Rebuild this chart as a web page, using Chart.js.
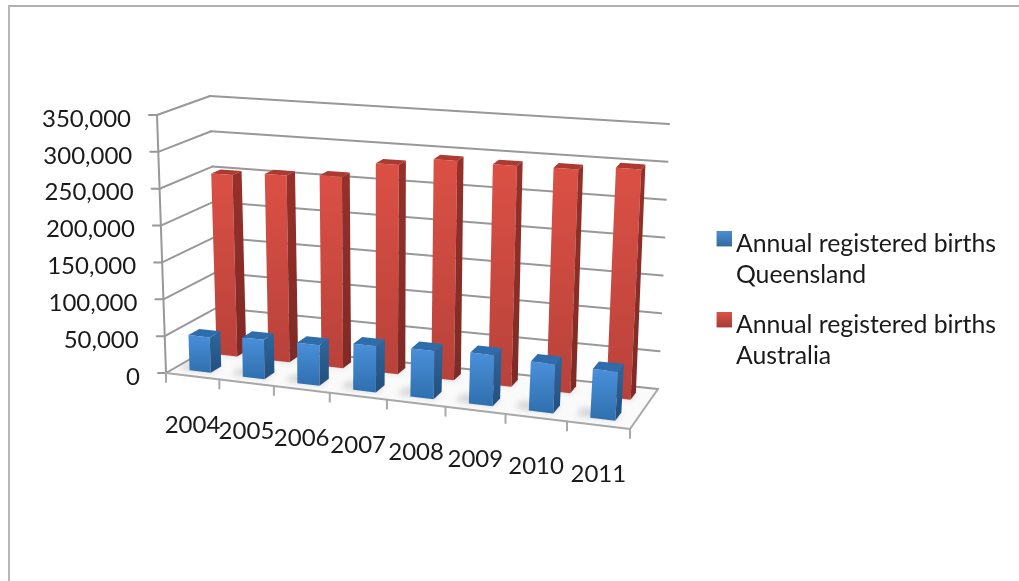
<!DOCTYPE html>
<html>
<head>
<meta charset="utf-8">
<title>Annual registered births</title>
<script src="https://cdn.jsdelivr.net/npm/chart.js@4/dist/chart.umd.min.js"></script>
<style>
  html, body { margin: 0; background: #fff; overflow: hidden; }
  #frame { position: absolute; left: 8px; top: 5px; right: -4px; bottom: -4px; border-left: 2px solid #b7b7b7; border-top: 2px solid #b0b0b0; }
  #graficoNascimentos { position: absolute; left: 0; top: 0; }
</style>
</head>
<body>
<div id="frame"></div>
<canvas id="graficoNascimentos" width="1019" height="581"></canvas>
<script>
const anos = ['2004', '2005', '2006', '2007', '2008', '2009', '2010', '2011'];
const queensland = [48000, 53000, 54000, 61000, 63000, 66000, 63000, 62000];
const australia = [252000, 257000, 261000, 283000, 294000, 293000, 294000, 300000];
const nomeQueensland = ['Annual registered births', 'Queensland'];
const nomeAustralia = ['Annual registered births', 'Australia'];

const fonte = 'Lato, "Open Sans", sans-serif';
const corGrade = '#989898';

// corners of the plot box on screen: floor and ceiling, front-left first, going round
const chao = quad([166, 373], [630, 429], [658, 389], [218, 343]);
const teto = quad([157, 115], [648, 150], [669, 124], [210, 96]);

// unit square -> quadrilateral
function quad(p00, p10, p11, p01) {
  return (u, w) => [0, 1].map(i =>
    p00[i] * (1 - u) * (1 - w) + p10[i] * u * (1 - w) + p11[i] * u * w + p01[i] * (1 - u) * w);
}

// u along the years, v up the value axis, w into the depth
function projeta(u, v, w) {
  const uu = u / (1 + 0.1 * (1 - u)); // years get wider towards the right
  const p0 = chao(uu, w), p1 = teto(uu, w);
  return [p0[0] + (p1[0] - p0[0]) * v, p0[1] + (p1[1] - p0[1]) * v];
}

function poligono(ctx, pts, cor) {
  ctx.beginPath();
  pts.forEach((p, i) => i ? ctx.lineTo(p[0], p[1]) : ctx.moveTo(p[0], p[1]));
  ctx.closePath();
  ctx.fillStyle = cor;
  ctx.fill();
}

function linha(ctx, a, b) {
  ctx.beginPath();
  ctx.moveTo(a[0], a[1]);
  ctx.lineTo(b[0], b[1]);
  ctx.stroke();
}

// bar controller whose columns are drawn as boxes inside the projected plot
class Barra3dController extends Chart.BarController {
  static id = 'barra3d';
  static defaults = Chart.BarController.defaults;
  static overrides = Chart.BarController.overrides;

  draw() {
    const ctx = this.chart.ctx;
    const area = this.chart.chartArea;
    const ds = this.getDataset();
    const u = x => (x - area.left) / area.width;
    const v = y => (area.bottom - y) / area.height;

    this.getMeta().data.forEach(barra => {
      const u0 = u(barra.x - barra.width / 2), u1 = u(barra.x + barra.width / 2);
      const v0 = v(barra.base), v1 = v(barra.y);
      const w0 = ds.profundidade[0], w1 = ds.profundidade[1];

      // soft shadow on the floor, to the left of the base
      ctx.save();
      ctx.filter = 'blur(3px)';
      poligono(ctx, [
        projeta(u0 - 0.03, 0, w0 + 0.02), projeta(u1, 0, w0 + 0.02),
        projeta(u1, 0, w1), projeta(u0 - 0.03, 0, w1)
      ], 'rgba(120,120,120,0.32)');
      ctx.restore();

      const topoA = projeta(u0, v1, w0), topoB = projeta(u1, v1, w0);
      const baseA = projeta(u0, v0, w0), baseB = projeta(u1, v0, w0);

      const grad = ctx.createLinearGradient(0, topoA[1], 0, baseB[1]);
      grad.addColorStop(0, ds.corFrente[0]);
      grad.addColorStop(1, ds.corFrente[1]);
      poligono(ctx, [topoA, topoB, baseB, baseA], grad);

      const gradLado = ctx.createLinearGradient(0, topoA[1], 0, baseB[1]);
      gradLado.addColorStop(0, ds.corLado[0]);
      gradLado.addColorStop(1, ds.corLado[1]);
      poligono(ctx, [topoB, projeta(u1, v1, w1), projeta(u1, v0, w1), baseB], gradLado);

      poligono(ctx, [topoA, topoB, projeta(u1, v1, w1), projeta(u0, v1, w1)], ds.corTopo);
    });
  }
}
Chart.register(Barra3dController);

// walls, floor and the axis labels, taken from the chart's scales
const caixa3d = {
  id: 'caixa3d',
  beforeDatasetsDraw(chart) {
    const ctx = chart.ctx;
    const area = chart.chartArea;
    const sx = chart.scales.x, sy = chart.scales.y;

    poligono(ctx, [projeta(0, 0, 0), projeta(1, 0, 0), projeta(1, 0, 1), projeta(0, 0, 1)], '#fafafa');

    ctx.save();
    ctx.lineCap = 'round';
    ctx.strokeStyle = corGrade;
    ctx.lineWidth = 2;
    ctx.fillStyle = '#1a1a1a';
    ctx.font = '24px ' + fonte;
    ctx.textBaseline = 'middle';

    // grid lines on the side and back walls
    ctx.textAlign = 'right';
    sy.ticks.forEach(t => {
      const v = (area.bottom - sy.getPixelForValue(t.value)) / area.height;
      const frente = projeta(0, v, 0), fundo = projeta(0, v, 1);
      linha(ctx, frente, fundo);
      linha(ctx, fundo, projeta(1, v, 1));
      linha(ctx, [frente[0] - 8, frente[1]], frente);
      ctx.fillText(t.label, frente[0] - 26, frente[1] + 4);
    });
    linha(ctx, projeta(0, 0, 0), projeta(0, 1, 0));

    // floor edges and year ticks
    ctx.strokeStyle = '#a8a8a8';
    linha(ctx, projeta(0, 0, 0), projeta(1, 0, 0));
    linha(ctx, projeta(1, 0, 0), projeta(1, 0, 1));
    const passo = area.width / sx.ticks.length;
    ctx.textAlign = 'center';
    sx.ticks.forEach((t, i) => {
      const cx = sx.getPixelForTick(i);
      const lim = projeta((cx + passo / 2 - area.left) / area.width, 0, 0);
      linha(ctx, lim, [lim[0], lim[1] + 9]);
      const c = projeta((cx - area.left) / area.width, 0, 0);
      ctx.fillText(t.label, c[0], c[1] + 49);
    });
    const ini = projeta(0, 0, 0);
    linha(ctx, ini, [ini[0], ini[1] + 9]);
    ctx.restore();
  }
};

// small gradient squares for the legend, nudged up and right inside their canvas
function amostra(a, b) {
  const c = document.createElement('canvas');
  c.width = 21;
  c.height = 26;
  const g = c.getContext('2d');
  const grad = g.createLinearGradient(0, 0, 0, 15);
  grad.addColorStop(0, a);
  grad.addColorStop(1, b);
  g.fillStyle = grad;
  g.fillRect(6, 0, 15, 15);
  return c;
}

const ctx = document.getElementById('graficoNascimentos').getContext('2d');
const graficoNascimentos = new Chart(ctx, {
  type: 'barra3d',
  data: {
    labels: anos,
    datasets: [
      {
        label: nomeQueensland, data: queensland, grouped: false, categoryPercentage: 1, barPercentage: 0.4, clip: false,
        backgroundColor: '#3f80c6', pointStyle: amostra('#4a8fd4', '#33699f'),
        profundidade: [0.15, 0.36], corFrente: ['#4a90d9', '#2f6fae'], corLado: ['#2c659c', '#234f7d'], corTopo: '#2e6cab'
      },
      {
        label: nomeAustralia, data: australia, grouped: false, categoryPercentage: 1, barPercentage: 0.4, clip: false,
        backgroundColor: '#c8473d', pointStyle: amostra('#d8534a', '#a83c34'),
        profundidade: [0.68, 0.86], corFrente: ['#db5045', '#b8423a'], corLado: ['#96302a', '#7f2a25'], corTopo: '#ad3a31'
      }
    ]
  },
  options: {
    responsive: false,
    animation: false,
    layout: { padding: { top: 26, right: 13 } },
    scales: {
      x: { type: 'category', offset: true, display: false },
      y: { type: 'linear', display: false, min: 0, max: 350000, ticks: { stepSize: 50000, callback: v => v.toLocaleString('en-US') } }
    },
    plugins: {
      tooltip: { enabled: false },
      legend: {
        display: true,
        position: 'right',
        onClick: null,
        labels: {
          usePointStyle: true,
          boxHeight: 15,
          boxWidth: 5,
          padding: 19,
          color: '#1a1a1a',
          font: { family: fonte, size: 24.8, lineHeight: 31 / 24.8 }
        }
      }
    }
  },
  plugins: [caixa3d]
});
</script>
</body>
</html>
